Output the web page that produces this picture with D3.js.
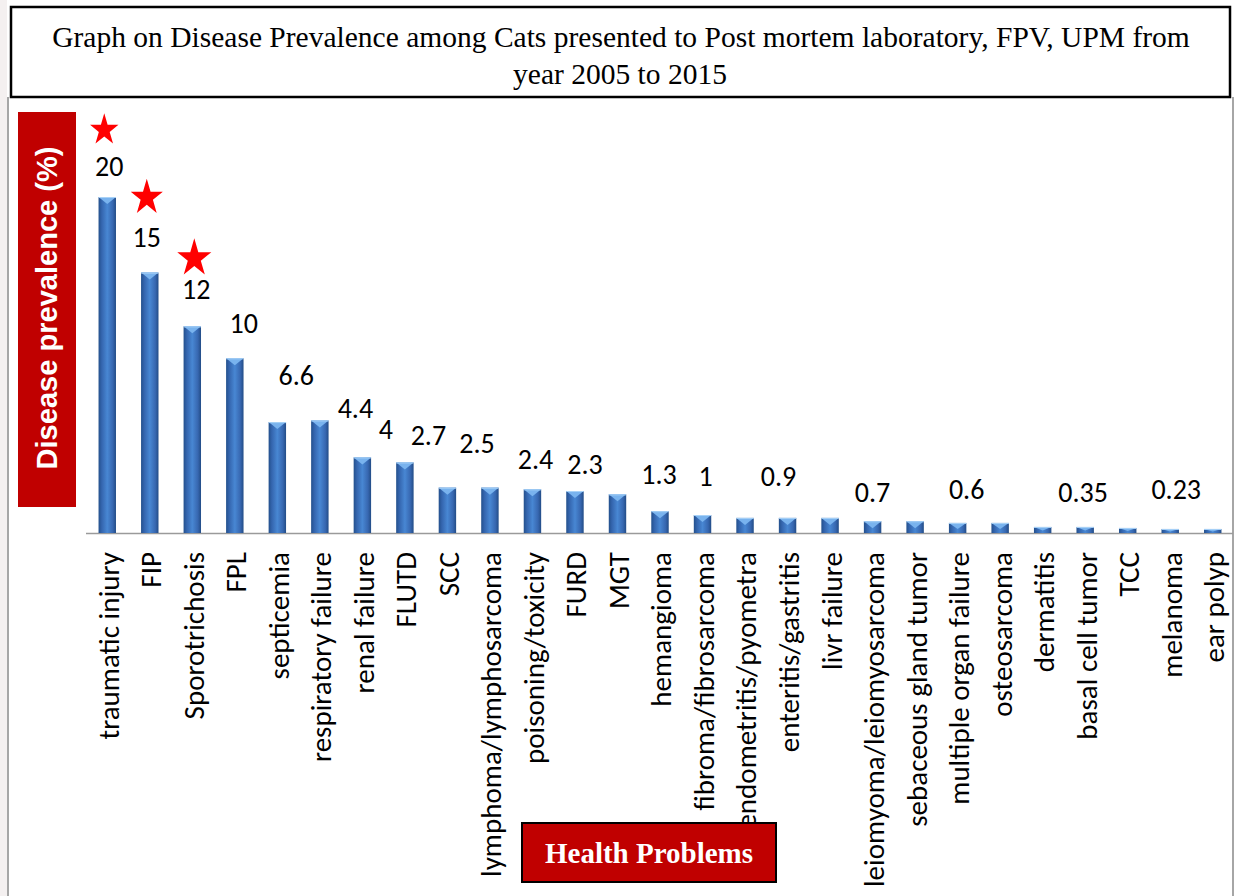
<!DOCTYPE html>
<html>
<head>
<meta charset="utf-8">
<script src="https://cdn.jsdelivr.net/npm/d3@7"></script>
<style>
  body { margin: 0; background: #fff; }
  svg { display: block; }
</style>
</head>
<body>
<svg id="chart" width="1239" height="896"></svg>
<script>
const categories = [
  'traumatic injury', 'FIP', 'Sporotrichosis', 'FPL', 'septicemia', 'respiratory failure',
  'renal failure', 'FLUTD', 'SCC', 'lymphoma/lymphosarcoma', 'poisoning/toxicity', 'FURD',
  'MGT', 'hemangioma', 'fibroma/fibrosarcoma', 'endometritis/pyometra', 'enteritis/gastritis',
  'livr failure', 'leiomyoma/leiomyosarcoma', 'sebaceous gland tumor', 'multiple organ failure',
  'osteosarcoma', 'dermatitis', 'basal cell tumor', 'TCC', 'melanoma', 'ear polyp',
]
// bar heights (%)
const values = [
  20, 15.5, 12.3, 10.4, 6.6, 6.7, 4.5, 4.2, 2.7, 2.7, 2.6, 2.5,
  2.3, 1.3, 1.07, 0.9, 0.9, 0.9, 0.7, 0.7, 0.6, 0.6, 0.36, 0.36, 0.3, 0.24, 0.24,
]
// hand typed value labels and the bar each one sits over
const labelTexts = ['20', '15', '12', '10', '6.6', '4.4', '4', '2.7', '2.5', '2.4', '2.3', '1.3', '1', '0.9', '0.7', '0.6', '0.35', '0.23']
const labelCats = [0, 1, 2, 3, 4, 6, 7, 8, 9, 10, 11, 13, 14, 16, 18, 20, 23, 25]
const starredLabels = ['20', '15', '12']

const titleLines = [
  'Graph on Disease Prevalence among Cats presented to Post mortem laboratory, FPV, UPM from',
  'year 2005 to 2015',
]
const yTitle = 'Disease prevalence (%)'
const xTitle = 'Health Problems'

// the labels were placed by hand: [dx from bar centre, gap above bar top]
const labelNudge = [
  [2, 21], [-3, 26], [4, 27], [9, 25], [19, 37], [-7, 39], [-19, 23], [-19, 43], [-13, 35],
  [3, 20], [10, 17], [-1, 27], [3, 29], [-9, 32], [0, 19], [9, 24], [-2, 25], [6, 30],
]
// star offsets from the label anchor and star symbol size
const starNudge = [[-5, -46, 250], [0, -49, 320], [-2, -41, 360]]

const RED = '#c00000'
const LABEL_FONT = 'Carlito, Lato, "Open Sans", sans-serif'

const svg = d3.select('#chart')
const width = 1239
const height = 896
const baseY = 533

const x = d3.scaleBand().domain(categories).range([86, 1234]).paddingInner(0.59).paddingOuter(0.295)
const y = d3.scaleLinear().domain([0, 20]).range([baseY, 197])

const defs = svg.append('defs')
const grad = defs.append('linearGradient').attr('id', 'barGrad').attr('x1', 0).attr('x2', 1).attr('y1', 0).attr('y2', 0)
grad.selectAll('stop')
  .data([[0, '#23508c'], [0.18, '#3465ae'], [0.5, '#4887d3'], [0.82, '#3767b0'], [1, '#224c86']])
  .join('stop')
  .attr('offset', (d) => d[0])
  .attr('stop-color', (d) => d[1])

// page background strip + frame lines
svg.append('rect').attr('x', 0).attr('y', 0).attr('width', 7).attr('height', height).attr('fill', '#f4f0f0')
svg.append('line').attr('x1', 8).attr('x2', 8).attr('y1', 97).attr('y2', height)
  .attr('stroke', '#a6a6a6').attr('stroke-width', 2)
svg.append('line').attr('x1', 1233).attr('x2', 1233).attr('y1', 97).attr('y2', height)
  .attr('stroke', '#a6a6a6').attr('stroke-width', 2)

// title box
svg.append('rect').attr('x', 11).attr('y', 7).attr('width', 1219).attr('height', 90)
  .attr('fill', '#fff').attr('stroke', '#000').attr('stroke-width', 2.5)

function fitText(sel, target) {
  const w = sel.node().getComputedTextLength()
  const fs = parseFloat(sel.attr('font-size'))
  sel.attr('font-size', fs * target / w)
}

// the title in the picture is a tall, horizontally squeezed Times
const title = svg.append('g').attr('font-family', '"Liberation Serif", "Times New Roman", serif').attr('fill', '#000')
const t1 = title.append('text').attr('text-anchor', 'middle').attr('font-size', 29.5).text(titleLines[0])
const squeeze = 1138 / t1.node().getComputedTextLength()
t1.attr('transform', `translate(621,47) scale(${squeeze},1)`)
title.append('text').attr('text-anchor', 'middle').attr('font-size', 29.5)
  .attr('transform', `translate(620,84) scale(${squeeze},1)`)
  .text(titleLines[1])

// y title box
svg.append('rect').attr('x', 18).attr('y', 112).attr('width', 58).attr('height', 395).attr('fill', RED)
const yt = svg.append('text')
  .attr('transform', 'translate(57,308) rotate(-90)')
  .attr('text-anchor', 'middle')
  .attr('font-family', '"Liberation Sans", Arial, sans-serif')
  .attr('font-weight', 'bold')
  .attr('font-size', 27)
  .attr('fill', '#fff')
  .text(yTitle)
fitText(yt, 323)

// x axis line
svg.append('line').attr('x1', 86).attr('x2', 1233).attr('y1', baseY + 0.5).attr('y2', baseY + 0.5)
  .attr('stroke', '#9a9a9a').attr('stroke-width', 1.6)

// bars
const bars = svg.append('g').selectAll('g').data(categories).join('g')
bars.append('rect')
  .attr('x', (d) => x(d))
  .attr('y', (d, i) => y(values[i]))
  .attr('width', x.bandwidth())
  .attr('height', (d, i) => baseY - y(values[i]))
  .attr('fill', 'url(#barGrad)')
bars.append('path')
  .attr('d', (d, i) => {
    const x0 = x(d)
    const x1 = x0 + x.bandwidth()
    const top = y(values[i])
    const depth = Math.min(7, (baseY - top) * 0.6)
    return `M${x0},${top}L${x1},${top}L${(x0 + x1) / 2},${top + depth}Z`
  })
  .attr('fill', '#79b3ee')
bars.append('line')
  .attr('x1', (d) => x(d)).attr('x2', (d) => x(d) + x.bandwidth())
  .attr('y1', (d, i) => y(values[i]) + 0.5).attr('y2', (d, i) => y(values[i]) + 0.5)
  .attr('stroke', '#a9d2f7').attr('stroke-width', 1)

// value labels
const labelPos = labelTexts.map((t, k) => {
  const c = categories[labelCats[k]]
  return {
    text: t,
    x: x(c) + x.bandwidth() / 2 + labelNudge[k][0],
    y: y(values[labelCats[k]]) - labelNudge[k][1],
  }
})
svg.append('g').selectAll('text').data(labelPos).join('text')
  .attr('x', (d) => d.x)
  .attr('y', (d) => d.y)
  .attr('text-anchor', 'middle')
  .attr('font-family', LABEL_FONT)
  .attr('font-size', 28)
  .attr('fill', '#000')
  .text((d) => d.text)

const starSym = d3.symbol().type(d3.symbolStar)
svg.append('g').selectAll('path').data(labelPos.filter((d) => starredLabels.includes(d.text))).join('path')
  .attr('d', (d, i) => starSym.size(starNudge[i][2])())
  .attr('transform', (d, i) => `translate(${d.x + starNudge[i][0]},${d.y + starNudge[i][1]}) scale(1,1.12)`)
  .attr('fill', '#ff0000')

// category labels
svg.append('g').selectAll('text').data(categories).join('text')
  .attr('transform', (d) => `translate(${x(d) + x.bandwidth() / 2 + 1},${baseY + 19}) rotate(-90)`)
  .attr('text-anchor', 'end')
  .attr('dy', '0.36em')
  .attr('font-family', LABEL_FONT)
  .attr('font-size', 29)
  .attr('fill', '#000')
  .text((d) => d)

// x title box
svg.append('rect').attr('x', 522).attr('y', 823).attr('width', 254).attr('height', 59)
  .attr('fill', RED).attr('stroke', '#000').attr('stroke-width', 2)
svg.append('text').attr('x', 649).attr('y', 863)
  .attr('text-anchor', 'middle')
  .attr('font-family', '"Liberation Serif", "Times New Roman", serif')
  .attr('font-weight', 'bold')
  .attr('font-size', 29)
  .attr('fill', '#fff')
  .text(xTitle)
</script>
</body>
</html>
